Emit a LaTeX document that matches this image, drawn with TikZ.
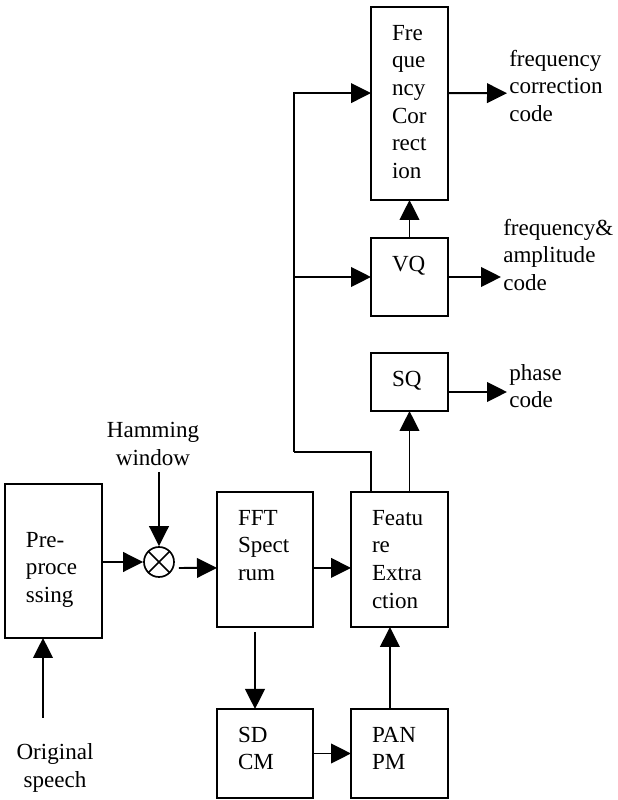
\documentclass[tikz,border=0pt]{standalone}
\usepackage{fontspec}
\setmainfont{Liberation Serif}
\usetikzlibrary{arrows.meta,positioning}
\newcommand{\toptext}[3]{\parbox[t][#1][t]{#2}{#3}}
\tikzset{
  block/.style={draw=black, line width=1.4pt, anchor=north west, inner xsep=5.25mm, inner ysep=4.5mm, outer sep=0pt},
  mixer/.style={circle, draw=black, line width=1.2pt, minimum size=7.5mm, inner sep=0pt,
    path picture={\draw[line width=1.2pt] (path picture bounding box.north west) -- (path picture bounding box.south east)
      (path picture bounding box.south west) -- (path picture bounding box.north east);}},
  note/.style={inner sep=0.5mm, align=left},
  arrow/.style={-{Triangle[length=5mm,width=4.9mm]}, line width=1.4pt},
  wire/.style={line width=1.4pt}
}

\begin{document}
\begin{tikzpicture}[font=\fontsize{16.4}{19.7}\selectfont]
  \useasboundingbox (0,0) rectangle (15.45,20);
  % blocks
  \node[block] (fc) at (9.275,19.825) {\toptext{3.925cm}{0.875cm}{Fre\\que\\ncy\\Cor\\rect\\ion}};
  \node[block] (vq) at (9.275,14.05) {\toptext{1.05cm}{0.875cm}{VQ}};
  \node[block] (sq) at (9.275,11.175) {\toptext{0.55cm}{0.875cm}{SQ}};
  \node[block, inner ysep=12mm] (pre) at (0.125,7.9) {\toptext{1.45cm}{1.375cm}{Pre-\\proce\\ssing}};
  \node[block] (fft) at (5.425,7.7) {\toptext{2.475cm}{1.35cm}{FFT\\Spect\\rum}};
  \node[block] (fe) at (8.775,7.7) {\toptext{2.475cm}{1.375cm}{Featu\\re\\Extra\\ction}};
  \node[block] (sdcm) at (5.425,2.275) {\toptext{1.325cm}{1.35cm}{SD\\CM}};
  \node[block] (panpm) at (8.775,2.275) {\toptext{1.325cm}{1.375cm}{PAN\\PM}};
  \node[mixer] (mult) at (3.975,5.95) {};
  % labels
  \node[note, align=center] (hamming) at (3.825,8.9) {Hamming\\window};
  \node[note, align=center] (speech) at (1.375,0.8) {Original\\speech};
  \node[note, anchor=west] (fccode) at (12.675,17.85) {frequency\\correction\\code};
  \node[note, anchor=west] (vqcode) at (12.525,13.625) {frequency\&\\amplitude\\code};
  \node[note, anchor=west] (phcode) at (12.675,10.35) {phase\\code};
  \coordinate (bus) at (7.35,8.7);
  \coordinate (win) at (3.975,8.2);
  \coordinate (src) at (1.075,2.05);
  % signal path
  \draw[arrow] (src) -- (src |- pre.south);
  \draw[arrow] (win) -- (mult.north);
  \draw[arrow] (pre.east |- mult.west) -- (mult.west);
  \draw[arrow] ([xshift=1mm,yshift=-1.5mm]mult.east) -- ([yshift=-2.1mm]fft.west);
  \draw[arrow] ([yshift=-2.1mm]fft.east) -- ([yshift=-2.1mm]fe.west);
  \draw[arrow] ([xshift=-2.5mm,yshift=-1.2mm]fft.south) -- ([xshift=-2.5mm]sdcm.north);
  \draw[arrow] (sdcm.east) -- (panpm.west);
  \draw[arrow] ([xshift=-2.4mm]panpm.north) -- ([xshift=-2.4mm]fe.south);
  \draw[arrow] (sq.south |- fe.north) -- (sq.south);
  \draw[wire] (vq.west |- fe.north) |- (bus);
  \draw[arrow] (bus) |- ([yshift=2.6mm]fc.west);
  \draw[arrow] (bus |- vq.west) -- (vq.west);
  \draw[arrow] (vq.north) -- (fc.south);
  % outputs
  \draw[arrow] ([yshift=2.6mm]fc.east) -- ([yshift=-1.8mm]fccode.west);
  \draw[arrow] (vq.east) -- ([yshift=-5.5mm]vqcode.west);
  \draw[arrow] ([yshift=-2.5mm]sq.east) -- ([yshift=-1.5mm]phcode.west);
\end{tikzpicture}
\end{document}
